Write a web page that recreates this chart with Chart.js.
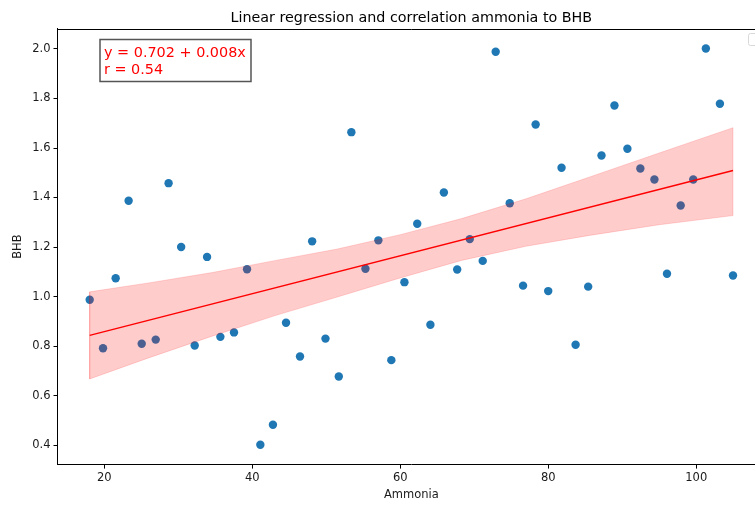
<!DOCTYPE html>
<html><head><meta charset="utf-8">
<script src="https://cdn.jsdelivr.net/npm/chart.js@4/dist/chart.umd.min.js"></script>
<style>
html,body{margin:0;padding:0;overflow:hidden;background:#fff;width:755px;height:506px}
#wrap{width:785px;height:506px}
canvas{display:block}
</style></head><body>
<div id="wrap"><canvas id="c" width="785" height="506"></canvas></div>
<script>
// ---- data ----
const ammonia = [18.04, 19.84, 21.55, 23.3, 25.07, 26.96, 28.7, 30.4, 32.23, 33.9,
  35.7, 37.54, 39.3, 41.1, 42.8, 44.57, 46.46, 48.1, 49.9, 51.7,
  53.4, 55.3, 57.05, 58.8, 60.57, 62.3, 64.08, 65.9, 67.7, 69.4,
  71.15, 72.9, 74.8, 76.6, 78.3, 80.0, 81.8, 83.7, 85.4, 87.2,
  88.95, 90.7, 92.45, 94.35, 96.05, 97.9, 99.6, 101.3, 103.2, 104.97];
const bhb = [0.987, 0.791, 1.074, 1.387, 0.809, 0.826, 1.458, 1.20, 0.802, 1.16,
  0.837, 0.855, 1.11, 0.401, 0.482, 0.894, 0.758, 1.223, 0.830, 0.677,
  1.664, 1.112, 1.227, 0.743, 1.058, 1.294, 0.886, 1.420, 1.109, 1.232,
  1.144, 1.989, 1.377, 1.044, 1.695, 1.022, 1.520, 0.805, 1.040, 1.570,
  1.772, 1.597, 1.517, 1.473, 1.092, 1.368, 1.473, 2.002, 1.779, 1.085];
const fitX = [18.04, 104.97];
const fitY = [0.843, 1.509];
const bandX = [18.04, 26, 34.6, 43, 51.5, 60, 68.3, 77, 85.6, 95, 104.97];
const bandLower = [0.667, 0.752, 0.840, 0.922, 0.998, 1.075, 1.146, 1.203, 1.247, 1.290, 1.327];
const bandUpper = [1.019, 1.055, 1.097, 1.145, 1.192, 1.250, 1.315, 1.395, 1.483, 1.580, 1.682];
const xTickValues = [20, 40, 60, 80, 100];
const yTickValues = [0.4, 0.6, 0.8, 1.0, 1.2, 1.4, 1.6, 1.8, 2.0];
const titleText = 'Linear regression and correlation ammonia to BHB';
const xLabel = 'Ammonia';
const yLabel = 'BHB';
const annotationLines = ['y = 0.702 + 0.008x', 'r = 0.54'];

// ---- build chart ----
const FONT = "'DejaVu Sans', sans-serif";
const scatterPts = ammonia.map((x, i) => ({x: x, y: bhb[i]}));
const fitPts = fitX.map((x, i) => ({x: x, y: fitY[i]}));
const bandPts = bandX.map((x, i) => ({x: x, y: bandLower[i]}))
  .concat(bandX.slice().reverse().map((x, i) => ({x: x, y: bandUpper[bandX.length - 1 - i]})));
bandPts.push({x: bandX[0], y: bandLower[0]});

const decor = {
  id: 'decor',
  afterDraw(chart) {
    const ctx = chart.ctx, a = chart.chartArea;
    ctx.save();
    // top spine
    ctx.strokeStyle = '#000'; ctx.lineWidth = 1;
    ctx.beginPath(); ctx.moveTo(a.left, Math.round(a.top) + 0.5); ctx.lineTo(a.right, Math.round(a.top) + 0.5); ctx.stroke();
    // title
    ctx.fillStyle = '#000';
    ctx.font = '14.3px ' + FONT;
    ctx.textAlign = 'center'; ctx.textBaseline = 'alphabetic';
    ctx.fillText(titleText, (a.left + a.right) / 2, 22);
    // annotation box
    ctx.fillStyle = '#fff';
    ctx.fillRect(100, 39.5, 151, 42);
    ctx.strokeStyle = '#555'; ctx.lineWidth = 1.5;
    ctx.strokeRect(100, 39.5, 151, 42);
    ctx.fillStyle = '#ff0000';
    ctx.font = '14.4px ' + FONT;
    ctx.textAlign = 'left';
    ctx.fillText(annotationLines[0], 104, 56.7);
    ctx.fillText(annotationLines[1], 104, 74);
    // empty legend frame at upper right (cut off)
    ctx.strokeStyle = '#d8d8d8'; ctx.lineWidth = 1;
    ctx.beginPath();
    if (ctx.roundRect) ctx.roundRect(748.5, 33.5, 14, 12, 2); else ctx.rect(748.5, 33.5, 14, 12);
    ctx.stroke();
    ctx.restore();
  }
};

new Chart(document.getElementById('c'), {
  type: 'scatter',
  data: {
    datasets: [
      {label: 'fit', data: fitPts, showLine: true, borderColor: '#ff0000', borderWidth: 1.5,
        pointRadius: 0, fill: false, order: 1},
      {label: 'ci', data: bandPts, showLine: true, fill: 'shape', backgroundColor: 'rgba(255,0,0,0.2)',
        borderColor: 'rgba(255,0,0,0.15)', borderWidth: 1, pointRadius: 0, order: 2, tension: 0},
      {label: 'data', data: scatterPts, backgroundColor: '#1f77b4', borderWidth: 0, pointRadius: 4.2,
        pointHoverRadius: 4.2, order: 3}
    ]
  },
  options: {
    responsive: false,
    animation: false,
    devicePixelRatio: 1,
    layout: {padding: {left: 0, right: 19.8, top: 28.7, bottom: 0}},
    plugins: {legend: {display: false}, tooltip: {enabled: false}, title: {display: false}},
    scales: {
      x: {
        type: 'linear', min: 13.69, max: 109.32,
        afterBuildTicks: s => { s.ticks = xTickValues.map(v => ({value: v})); },
        afterFit: s => { s.height = 41.4; },
        grid: {drawOnChartArea: false, drawTicks: true, tickLength: 4, color: '#000'},
        border: {display: true, color: '#000', width: 1},
        ticks: {font: {family: FONT, size: 11.5}, color: '#1a1a1a', padding: 3, maxRotation: 0,
          callback: v => String(v)},
        title: {display: true, text: xLabel, font: {family: FONT, size: 11.5}, color: '#1a1a1a',
          padding: {top: 0, bottom: 4}}
      },
      y: {
        type: 'linear', min: 0.321, max: 2.082,
        afterBuildTicks: s => { s.ticks = yTickValues.map(v => ({value: v})); },
        afterFit: s => { s.width = 57.5; },
        grid: {drawOnChartArea: false, drawTicks: true, tickLength: 4, color: '#000'},
        border: {display: true, color: '#000', width: 1},
        ticks: {font: {family: FONT, size: 11.5}, color: '#1a1a1a', padding: 3,
          callback: v => Number(v).toFixed(1)},
        title: {display: true, text: yLabel, font: {family: FONT, size: 11.5}, color: '#1a1a1a',
          padding: {top: 11, bottom: 0}}
      }
    }
  },
  plugins: [decor]
});
</script>
</body></html>
